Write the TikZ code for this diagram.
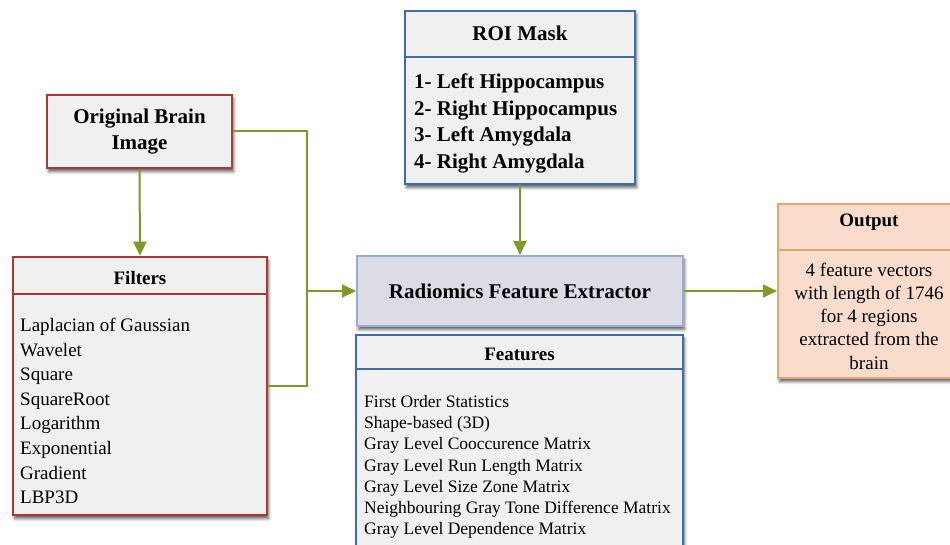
\documentclass[tikz,border=0pt]{standalone}
\usepackage{fontspec}
\setmainfont{Liberation Serif}
\usetikzlibrary{arrows.meta,shadows.blur}

\definecolor{boxfill}{HTML}{F0F0F0}
\definecolor{redline}{HTML}{AD3732}
\definecolor{blueline}{HTML}{3E6DA8}
\definecolor{radiofill}{HTML}{DCDCE6}
\definecolor{radioline}{HTML}{93AECF}
\definecolor{outfill}{HTML}{F9DCCB}
\definecolor{outline}{HTML}{E3A46F}
\definecolor{arrowgreen}{HTML}{7D9A2A}

\tikzset{
  softshadow/.style={blur shadow={shadow xshift=1.5pt, shadow yshift=-3.5pt,
      shadow blur steps=6, shadow blur radius=3pt, shadow opacity=65}},
  panel/.style={rectangle, line width=2.6pt, fill=boxfill, softshadow},
  redbox/.style={panel, draw=redline},
  bluebox/.style={panel, draw=blueline},
  divider/.style={line width=2pt},
  hdr/.style={font=\bfseries\fontsize{19}{23}\selectfont, inner sep=0pt},
  conn/.style={draw=arrowgreen, line width=2pt},
  arrowconn/.style={conn, -{Triangle[length=14pt, width=13pt]}},
}

\begin{document}
\begin{tikzpicture}[x=1pt, y=-1pt]
\useasboundingbox (0,0) rectangle (950,545);

% Original image
\node[redbox, minimum width=185pt, minimum height=73pt, align=center,
      font=\bfseries\fontsize{21}{26}\selectfont] (orig) at (139.5,131.5)
      {Original Brain\\Image};

% Filters panel
\node[redbox, minimum width=254pt, minimum height=258pt] (filters) at (140,386) {};
\draw[redline, divider] ([yshift=-38pt]filters.north west) -- ([yshift=-38pt]filters.north east);
\node[hdr] (filtershdr) at (140,278) {Filters};
\node[anchor=west, align=left, inner sep=0pt, font=\fontsize{19}{24.6}\selectfont]
  (filterlist) at (20,411)
  {Laplacian of Gaussian\\Wavelet\\Square\\SquareRoot\\Logarithm\\Exponential\\Gradient\\LBP3D};

% ROI mask panel
\node[bluebox, minimum width=230pt, minimum height=173pt] (roi) at (520,97.5) {};
\draw[blueline, divider] ([yshift=-47pt]roi.north west) -- ([yshift=-47pt]roi.north east);
\node[hdr, font=\bfseries\fontsize{21}{25}\selectfont] (roihdr) at (520,33) {ROI Mask};
\node[anchor=west, align=left, inner sep=0pt, font=\bfseries\fontsize{21}{26.7}\selectfont]
  (roilist) at (414,123.5)
  {1- Left Hippocampus\\2- Right Hippocampus\\3- Left Amygdala\\4- Right Amygdala};

% Extractor
\node[rectangle, draw=radioline, line width=2pt, fill=radiofill, softshadow,
      minimum width=326pt, minimum height=70pt,
      font=\bfseries\fontsize{21}{25}\selectfont] (radio) at (520,291)
      {Radiomics Feature Extractor};

% Features panel
\node[bluebox, minimum width=327pt, minimum height=222pt] (features) at (519.5,446) {};
\draw[blueline, divider] ([yshift=-35pt]features.north west) -- ([yshift=-35pt]features.north east);
\node[hdr] (featureshdr) at (519.5,354) {Features};
\node[anchor=west, align=left, inner sep=0pt, font=\fontsize{17.5}{21.2}\selectfont]
  (featurelist) at (364,467)
  {First Order Statistics\\Shape-based (3D)\\Gray Level Cooccurence Matrix\\Gray Level Run Length Matrix\\Gray Level Size Zone Matrix\\Neighbouring Gray Tone Difference Matrix\\Gray Level Dependence Matrix};

% Output panel
\node[rectangle, draw=outline, line width=2.2pt, fill=outfill, softshadow,
      minimum width=182pt, minimum height=174pt] (output) at (869,291) {};
\draw[outline, divider] ([yshift=-47pt]output.north west) -- ([yshift=-47pt]output.north east);
\node[hdr] (outputhdr) at (869,222) {Output};
\node[align=center, inner sep=0pt, font=\fontsize{19}{23.25}\selectfont]
  (outputtext) at (869,316)
  {4 feature vectors\\with length of 1746\\for 4 regions\\extracted from the\\brain};

% Connectors
\coordinate (junction) at (307,291);
\draw[conn] (orig.east) -| (junction);
\draw[conn] (junction) |- (filters.east);
\draw[arrowconn] (junction) -- (radio.west);
\draw[arrowconn] (orig.south) -- (filters.north);
\draw[arrowconn] (roi.south) -- (radio.north);
\draw[arrowconn] (radio.east) -- (output.west);
\end{tikzpicture}
\end{document}
